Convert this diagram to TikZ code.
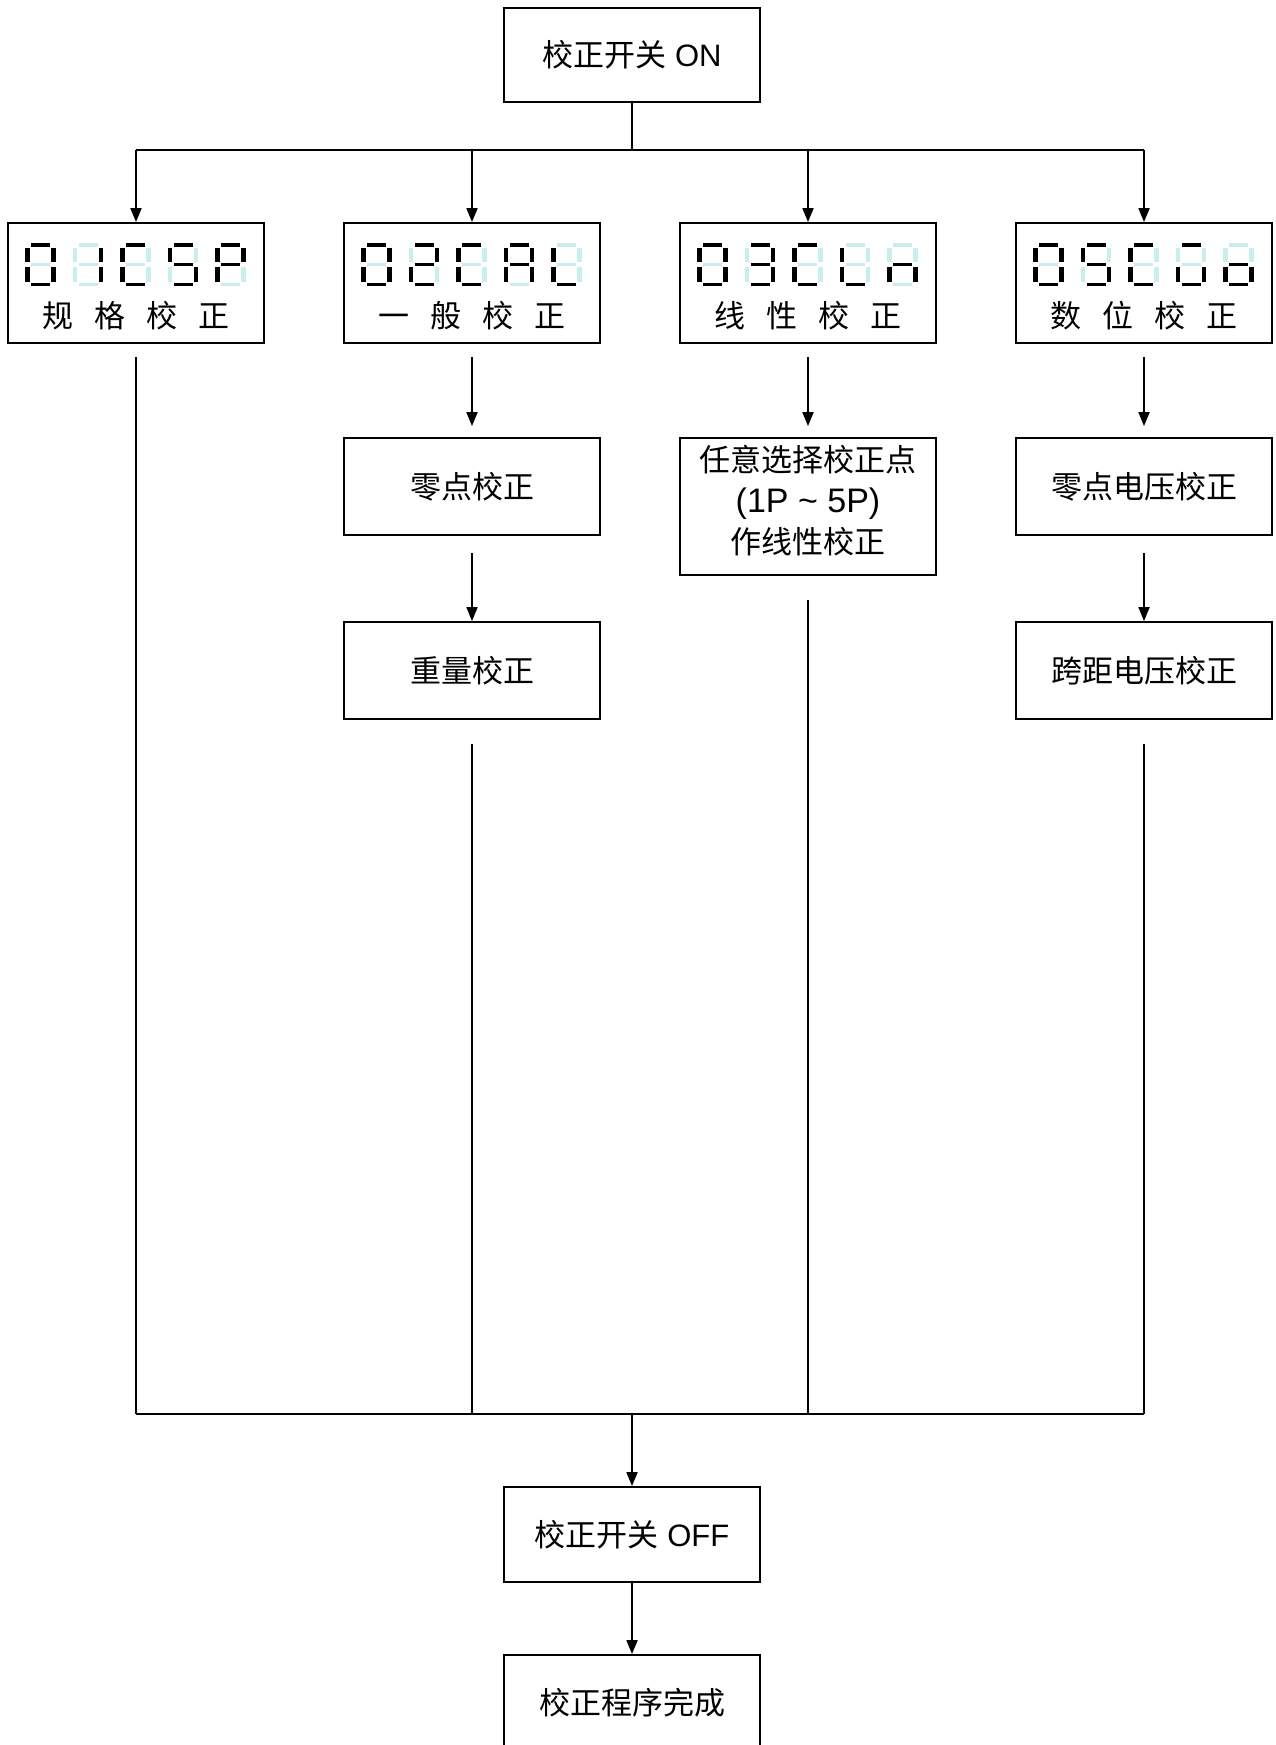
\documentclass[tikz,border=0pt]{standalone}
\usepackage{fontspec}
\setmainfont{Liberation Sans}
\newfontfamily\cjk{Noto Sans CJK SC}
\usetikzlibrary{positioning,arrows.meta}
\definecolor{segoff}{RGB}{200,238,238}
\tikzset{
  box/.style={draw, line width=1.8pt, minimum width=256pt, inner sep=0pt,
    align=center, font=\fontsize{31}{39}\selectfont},
  lbl/.style={inner sep=0pt, font=\cjk\fontsize{31}{39}\selectfont},
  wire/.style={line width=1.8pt},
  arr/.style={line width=1.8pt, -{Triangle[length=14pt,width=11pt]}},
  seg1/.style={fill=black},
  seg0/.style={fill=segoff}
}
\newcommand\gap{\hspace{21pt}}
% segments a b c d e f g
\def\segparse#1#2#3#4#5#6#7\relax{%
  \fill[seg#1] (6,0) rectangle (25,3.5);
  \fill[seg#2] (26,4.7) rectangle (30.5,18.7);
  \fill[seg#3] (26,23.7) rectangle (30.5,38.7);
  \fill[seg#4] (6,39.7) rectangle (25,43);
  \fill[seg#5] (0,23.7) rectangle (4.5,38.7);
  \fill[seg#6] (0,4.7) rectangle (4.5,18.7);
  \fill[seg#7] (6,19.7) rectangle (25,23);
}
\newcommand\sseg[2]{\edef\segbits{#2}%
  \begin{scope}[shift={(#1)}]\expandafter\segparse\segbits\relax\end{scope}}
\def\segZ{1111110}
\def\segI{0110000}
\def\segC{1001110}
\def\segS{1011011}
\def\segP{1100111}
\def\segT{1101101}
\def\segA{1110111}
\def\segL{0001110}
\def\segE{1111001}
\def\segN{0010101}
\def\segU{1011100}
\def\segO{0011101}

\begin{document}
\begin{tikzpicture}[x=1pt,y=-1pt]
\useasboundingbox (0,0) rectangle (1275,1745);
\def\xa{136}
\def\xb{472}
\def\xc{808}
\def\xd{1144}
\def\xm{632}

\def\ybus{150}
\def\yend{1414}
\def\yseg{243}
\def\ylbl{316}

\node[box, minimum height=94pt] (on) at (\xm,55) {{\cjk 校正开关} ON};

\node[box, minimum height=120pt] (d1) at (\xa,283) {};
\node[box, minimum height=120pt] (d2) at (\xb,283) {};
\node[box, minimum height=120pt] (d3) at (\xc,283) {};
\node[box, minimum height=120pt] (d4) at (\xd,283) {};

\foreach \c [count=\k from 0] in {\segZ,\segI,\segC,\segS,\segP}
  \sseg{\xa-111+\k*47.5,\yseg}{\c};
\foreach \c [count=\k from 0] in {\segZ,\segT,\segC,\segA,\segL}
  \sseg{\xb-111+\k*47.5,\yseg}{\c};
\foreach \c [count=\k from 0] in {\segZ,\segE,\segC,\segL,\segN}
  \sseg{\xc-111+\k*47.5,\yseg}{\c};
\foreach \c [count=\k from 0] in {\segZ,\segS,\segC,\segU,\segO}
  \sseg{\xd-111+\k*47.5,\yseg}{\c};

\node[lbl] (l1) at (\xa,\ylbl) {规\gap 格\gap 校\gap 正};
\node[lbl] (l2) at (\xb,\ylbl) {一\gap 般\gap 校\gap 正};
\node[lbl] (l3) at (\xc,\ylbl) {线\gap 性\gap 校\gap 正};
\node[lbl] (l4) at (\xd,\ylbl) {数\gap 位\gap 校\gap 正};

\node[box, minimum height=97pt] (z2) at (\xb,486.5) {\cjk 零点校正};
\node[box, minimum height=137pt] (r3) at (\xc,506.5) {};
\node[align=center, inner sep=0pt, font=\fontsize{31}{41}\selectfont] (r3t) at (\xc,501)
  {{\cjk 任意选择校正点}\\{\fontsize{34}{41}\selectfont(1P \textasciitilde{} 5P)}\\{\cjk 作线性校正}};
\node[box, minimum height=97pt] (z4) at (\xd,486.5) {\cjk 零点电压校正};
\node[box, minimum height=97pt] (w2) at (\xb,670.5) {\cjk 重量校正};
\node[box, minimum height=97pt] (s4) at (\xd,670.5) {\cjk 跨距电压校正};

\node[box, minimum height=95pt] (off) at (\xm,1534.5) {{\cjk 校正开关} OFF};
\node[box, minimum height=95pt] (fin) at (\xm,1702.5) {\cjk 校正程序完成};

\coordinate (tl) at (\xa,\ybus);
\coordinate (tr) at (\xd,\ybus);
\coordinate (bl) at (\xa,\yend);
\coordinate (br) at (\xd,\yend);

\draw[wire] (on.south) -- (on.south |- tl);
\draw[wire] (tl) -- (tr);
\foreach \n in {d1,d2,d3,d4}
  \draw[arr] (\n.north |- tl) -- (\n.north);

\draw[arr, shorten <=13pt, shorten >=11pt] (d2.south) -- (z2.north);
\draw[arr, shorten <=13pt, shorten >=11pt] (d3.south) -- (r3.north);
\draw[arr, shorten <=13pt, shorten >=11pt] (d4.south) -- (z4.north);
\draw[arr, shorten <=17pt] (z2.south) -- (w2.north);
\draw[arr, shorten <=17pt] (z4.south) -- (s4.north);

\draw[wire, shorten <=13pt] (d1.south) -- (d1.south |- bl);
\draw[wire, shorten <=24pt] (w2.south) -- (w2.south |- bl);
\draw[wire, shorten <=24pt] (r3.south) -- (r3.south |- bl);
\draw[wire, shorten <=24pt] (s4.south) -- (s4.south |- bl);
\draw[wire] (bl) -- (br);

\draw[arr] (off.north |- bl) -- (off.north);
\draw[arr] (off) -- (fin);
\end{tikzpicture}
\end{document}
